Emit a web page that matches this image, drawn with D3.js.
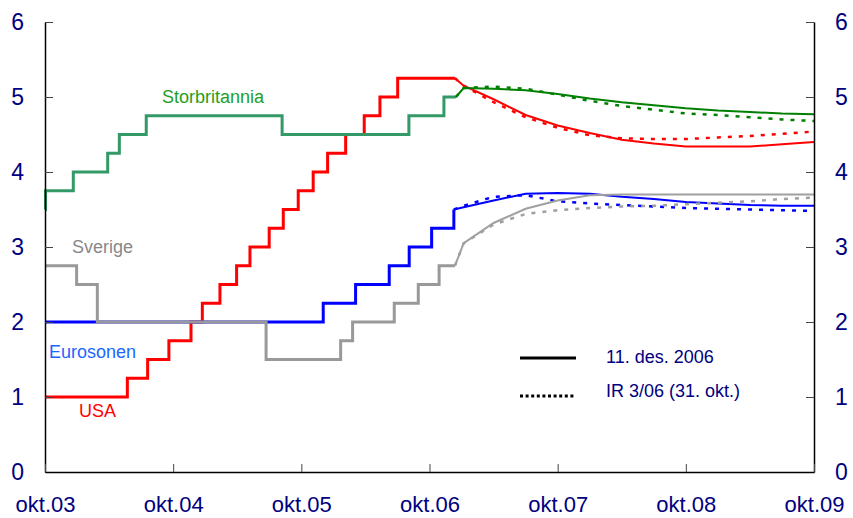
<!DOCTYPE html>
<html>
<head>
<meta charset="utf-8">
<script src="https://cdn.jsdelivr.net/npm/d3@7"></script>
<style>
  html, body { margin: 0; padding: 0; background: #fff; }
  svg { display: block; font-family: "Liberation Sans", Arial, sans-serif; }
</style>
</head>
<body>
<svg id="chart" width="853" height="518"></svg>
<script>
// ---- Data (x = months since okt.03) ----
const xTickMonths = [0, 12, 24, 36, 48, 60, 72];
const xTickLabels = ["okt.03", "okt.04", "okt.05", "okt.06", "okt.07", "okt.08", "okt.09"];
const yTicks = [0, 1, 2, 3, 4, 5, 6];

// Historical policy rates (step changes)
const ukHistM = [0, 0.05, 2.65, 5.87, 6.96, 9.48, 22.2, 34.07, 37.35, 38.47];
const ukHistV = [3.5, 3.75, 4.0, 4.25, 4.5, 4.75, 4.5, 4.75, 5.0, 5.0];
const usHistM = [0, 7.71, 9.61, 11.6, 13.67, 14.73, 16.38, 17.94, 19.19, 20.99, 22.31, 23.71, 25.11, 26.46, 28.15, 29.89, 31.36, 33.02, 38.38];
const usHistV = [1.0, 1.25, 1.5, 1.75, 2.0, 2.25, 2.5, 2.75, 3.0, 3.25, 3.5, 3.75, 4.0, 4.25, 4.5, 4.75, 5.0, 5.25, 5.25];
const euHistM = [0, 26.05, 29.08, 32.23, 34.1, 36.2, 38.28];
const euHistV = [2.0, 2.25, 2.5, 2.75, 3.0, 3.25, 3.5];
const seHistM = [0, 2.96, 4.9, 20.7, 27.68, 28.8, 32.7, 34.95, 36.9, 38.38];
const seHistV = [2.75, 2.5, 2.0, 1.5, 1.75, 2.0, 2.25, 2.5, 2.75, 2.75];

// Forward rates
const fcM = [39.2, 42, 45, 48, 51, 54, 57, 60, 63, 66, 69, 72];
const ukDes = [5.12, 5.11, 5.09, 5.04, 4.98, 4.93, 4.89, 4.85, 4.82, 4.80, 4.78, 4.77];
const ukOkt = [5.12, 5.14, 5.11, 5.03, 4.95, 4.88, 4.83, 4.78, 4.76, 4.73, 4.70, 4.68];
const usDes = [5.15, 4.97, 4.76, 4.62, 4.52, 4.43, 4.38, 4.34, 4.34, 4.34, 4.37, 4.40];
const usOkt = [5.15, 4.93, 4.73, 4.59, 4.49, 4.45, 4.44, 4.44, 4.46, 4.48, 4.51, 4.54];
const euDes = [3.53, 3.62, 3.71, 3.72, 3.71, 3.67, 3.64, 3.60, 3.58, 3.56, 3.55, 3.55];
const euOkt = [3.55, 3.67, 3.69, 3.61, 3.58, 3.56, 3.54, 3.52, 3.51, 3.50, 3.49, 3.48];
const seDes = [3.05, 3.32, 3.51, 3.62, 3.69, 3.70, 3.70, 3.70, 3.70, 3.70, 3.70, 3.70];
const seOkt = [3.05, 3.30, 3.44, 3.49, 3.52, 3.54, 3.55, 3.57, 3.59, 3.61, 3.64, 3.66];

const legendLabels = ["11. des. 2006", "IR 3/06 (31. okt.)"];

// ---- Chart ----
const svg = d3.select("#chart");
const x = d3.scaleLinear().domain([0, 72]).range([45, 814]);
const y = d3.scaleLinear().domain([0, 6]).range([472, 22]);

const zip = (ms, vs) => ms.map((m, i) => [m, vs[i]]);
const stepLine = d3.line().x(d => x(d[0])).y(d => y(d[1])).curve(d3.curveStepAfter);
const lin = d3.line().x(d => x(d[0])).y(d => y(d[1]));

const series = [
  { name: "USA", hm: usHistM, hv: usHistV, des: usDes, okt: usOkt, hc: "#ff0000", fc: "#ff0000" },
  { name: "Eurosonen", hm: euHistM, hv: euHistV, des: euDes, okt: euOkt, hc: "#0000ff", fc: "#0000ff" },
  { name: "Storbritannia", hm: ukHistM, hv: ukHistV, des: ukDes, okt: ukOkt, hc: "#339966", fc: "#008000" },
  { name: "Sverige", hm: seHistM, hv: seHistV, des: seDes, okt: seOkt, hc: "#999999", fc: "#a0a0a0" }
];

const gLines = svg.append("g");
series.forEach(s => {
  const hist = zip(s.hm, s.hv);
  const last = hist[hist.length - 1];
  gLines.append("path").attr("d", stepLine(hist))
    .attr("fill", "none").attr("stroke", s.hc).attr("stroke-width", 3);
  gLines.append("path").attr("d", lin([last].concat(zip(fcM, s.okt))))
    .attr("fill", "none").attr("stroke", s.fc).attr("stroke-width", 2.5)
    .attr("stroke-dasharray", "4,7");
  gLines.append("path").attr("d", lin([last].concat(zip(fcM, s.des))))
    .attr("fill", "none").attr("stroke", s.fc).attr("stroke-width", 2);
});

// Axes
function styleAxis(g, size) {
  g.select(".domain").attr("stroke", "#000").attr("stroke-width", 1.5);
  g.selectAll(".tick line").attr("stroke", "#444").attr("stroke-width", 1);
  g.selectAll(".tick text").attr("fill", "#000080").attr("font-size", size)
    .attr("font-family", "Liberation Sans, Arial, sans-serif");
}
const gl = svg.append("g").attr("transform", "translate(45,0)")
  .call(d3.axisLeft(y).tickValues(yTicks).tickFormat(d3.format("d")).tickSize(-8).tickSizeOuter(0).tickPadding(21));
styleAxis(gl, 23);
const gr = svg.append("g").attr("transform", "translate(814,0)")
  .call(d3.axisRight(y).tickValues(yTicks).tickFormat(d3.format("d")).tickSize(-8).tickSizeOuter(0).tickPadding(21));
styleAxis(gr, 23);
const gb = svg.append("g").attr("transform", "translate(0,472)")
  .call(d3.axisBottom(x).tickValues(xTickMonths).tickFormat((d, i) => xTickLabels[i]).tickSize(-8).tickSizeOuter(0).tickPadding(24));
styleAxis(gb, 22);

// Series labels
const labels = [
  { t: "Storbritannia", x: 162, y: 103, c: "#1f9f1f" },
  { t: "Sverige", x: 72, y: 253, c: "#888888" },
  { t: "Eurosonen", x: 49, y: 358, c: "#1a66ff" },
  { t: "USA", x: 79, y: 417, c: "#ff0000" }
];
svg.append("g").selectAll("text").data(labels).join("text")
  .attr("x", d => d.x).attr("y", d => d.y).attr("fill", d => d.c)
  .attr("font-size", 18).text(d => d.t);

// Legend
const lg = svg.append("g");
lg.append("line").attr("x1", 520).attr("x2", 576).attr("y1", 358).attr("y2", 358)
  .attr("stroke", "#000").attr("stroke-width", 3);
lg.append("line").attr("x1", 520).attr("x2", 576).attr("y1", 396).attr("y2", 396)
  .attr("stroke", "#000").attr("stroke-width", 3).attr("stroke-dasharray", "3,2.6");
lg.selectAll("text").data(legendLabels).join("text")
  .attr("x", 606).attr("y", (d, i) => 363 + i * 34)
  .attr("fill", "#000080").attr("font-size", 18).text(d => d);
</script>
</body>
</html>
